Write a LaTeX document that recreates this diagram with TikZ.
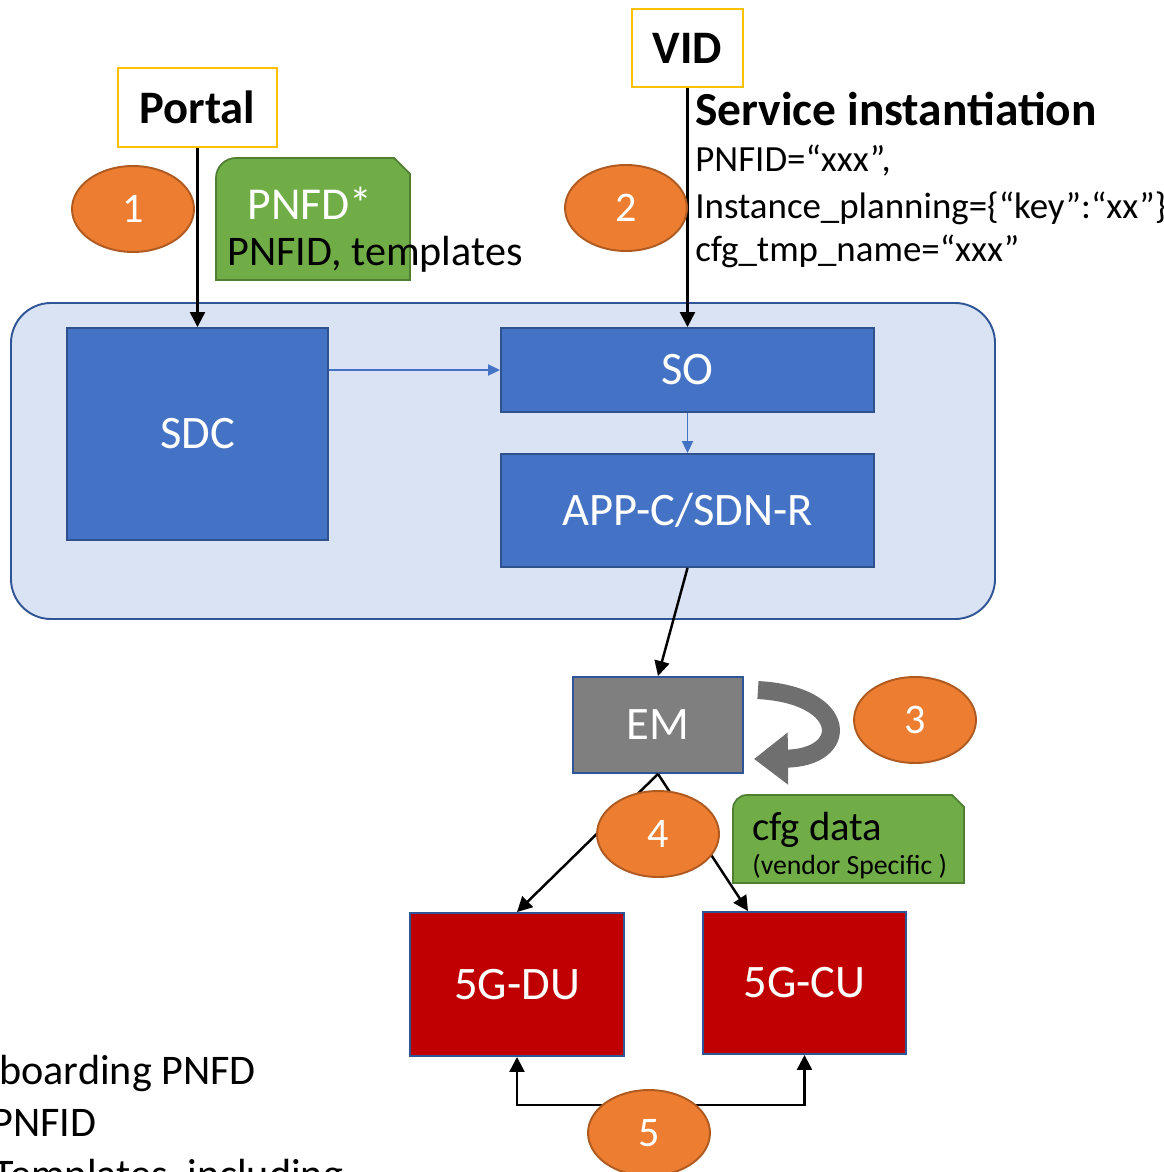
\documentclass[tikz,border=0pt]{standalone}
\usepackage{fontspec}
\setmainfont{Carlito}
\usetikzlibrary{arrows.meta,positioning,shapes.geometric}
\definecolor{onapblue}{HTML}{4472C4}
\definecolor{onapedge}{HTML}{2F528F}
\definecolor{panelfill}{HTML}{DAE3F3}
\definecolor{paneledge}{HTML}{2F5597}
\definecolor{stepfill}{HTML}{ED7D31}
\definecolor{stepedge}{HTML}{AE5A21}
\definecolor{notefill}{HTML}{70AD47}
\definecolor{noteedge}{HTML}{507E32}
\definecolor{emgray}{HTML}{7F7F7F}
\definecolor{loopgray}{HTML}{6F6F6F}
\definecolor{nfred}{HTML}{C00000}
\definecolor{actoredge}{HTML}{FFC000}

\begin{document}
\begin{tikzpicture}[
    x=0.02cm,y=-0.02cm,
    actor/.style={draw=actoredge,line width=1.1pt,fill=white,font=\fontsize{26.5}{30}\selectfont\bfseries},
    blk/.style={draw=onapedge,line width=1.1pt,fill=onapblue,text=white,font=\fontsize{26.5}{30}\selectfont},
    nf/.style={blk,fill=nfred},
    stepnum/.style={ellipse,draw=stepedge,line width=1.1pt,fill=stepfill,text=white,minimum width=2.44cm,minimum height=1.72cm,inner sep=0pt,font=\fontsize{24}{28}\selectfont},
    note/.style={draw=noteedge,line width=1pt,fill=notefill},
    flow/.style={-{Triangle[length=0.3cm,width=0.3cm]},line width=1.4pt},
    link/.style={-{Triangle[length=0.24cm,width=0.22cm]},line width=1.1pt,onapblue},
    txt/.style={inner sep=0pt,anchor=base west}
]
\useasboundingbox (0,0) rectangle (1163,1172);

% ONAP panel
\draw[draw=paneledge,fill=panelfill,line width=1.1pt,rounded corners=0.8cm] (11,303) rectangle (995,619);

% actors
\node[actor,minimum width=3.18cm,minimum height=1.58cm] (portal) at (197.5,107.5) {Portal};
\node[actor,minimum width=2.22cm,minimum height=1.56cm] (vid) at (687.5,48) {VID};

% ONAP components
\node[blk,minimum width=5.22cm,minimum height=4.24cm] (sdc) at (197.5,434) {SDC};
\node[blk,minimum width=7.46cm,minimum height=1.68cm] (so) at (687.5,370) {SO};
\node[blk,minimum width=7.46cm,minimum height=2.26cm] (appc) at (687.5,510.5) {APP-C/SDN-R};
\node[blk,fill=emgray,draw=paneledge,minimum width=3.4cm,minimum height=1.92cm] (em) at (658,725) {EM};
\node[nf,draw=paneledge,minimum width=4.28cm,minimum height=2.86cm] (du) at (517,984.5) {5G-DU};
\node[nf,draw=paneledge,minimum width=4.06cm,minimum height=2.84cm] (cu) at (804.5,983) {5G-CU};

% connectors
\draw[flow] (portal) -- (sdc);
\draw[flow] (vid) -- (so);
\draw[link] (sdc.east |- so.west) -- (so.west);
\draw[link] (so) -- (appc);
\draw[flow] (appc.south) -- (em.north);
\draw[flow] (em.south) -- (du.north);
\draw[flow] (em.south) -- ([xshift=-1.13cm]cu.north);
\draw[{Triangle[length=0.3cm,width=0.3cm]}-{Triangle[length=0.3cm,width=0.3cm]},line width=1.4pt]
    (du.south) -- ++(0,48) -| (cu.south);
\draw[loopgray,line width=0.36cm,-{Triangle[length=0.68cm,width=1.0cm]}]
    ([shift={(14,14)}]em.north east) .. controls (850,695) and (850,758) .. ([shift={(10,-15)}]em.south east);

% notes
\draw[note] (216,280) -- (216,178) arc[start angle=180,end angle=90,radius=0.4cm] -- (394,158) -- (410,174) -- (410,280) -- cycle;
\draw[note] (733,883) -- (733,809) arc[start angle=180,end angle=90,radius=0.28cm] -- (952,795) -- (964,807) -- (964,883) -- cycle;
\node[txt,anchor=base,text=white,font=\fontsize{26}{30}\selectfont] (pnfd) at (310,220) {PNFD*};
\node[txt,anchor=base,font=\fontsize{24}{28}\selectfont] (pnfdinfo) at (375,266) {PNFID, templates};
\node[txt,font=\fontsize{23.2}{28}\selectfont] (cfg) at (752,840) {cfg data};
\node[txt,font=\fontsize{15.8}{19}\selectfont] (vendor) at (752,874) {(vendor Specific )};

% steps
\node[stepnum] (s1) at (133,209) {1};
\node[stepnum] (s2) at (626,208) {2};
\node[stepnum] (s3) at (915,720) {3};
\node[stepnum] (s4) at (658,834) {4};
\node[stepnum] (s5) at (649,1133) {5};

% service instantiation text
\node[txt,font=\fontsize{27}{30}\selectfont\bfseries] (si) at (695,126) {Service instantiation};
\node[txt,font=\fontsize{21}{25}\selectfont] (si1) at (695,172) {PNFID=“xxx”,};
\node[txt,font=\fontsize{21}{25}\selectfont] (si2) at (695,219) {Instance\_planning=\{“key”:“xx”\}};
\node[txt,font=\fontsize{21}{25}\selectfont] (si3) at (695,262) {cfg\_tmp\_name=“xxx”};

% legend (cut off)
\node[txt,font=\fontsize{24}{28}\selectfont] (lg1) at (-1,1084) {boarding PNFD};
\node[txt,font=\fontsize{24}{28}\selectfont] (lg2) at (-9,1136) {PNFID};
\node[txt,font=\fontsize{24}{28}\selectfont] (lg3) at (-7,1188) {Templates, including};
\end{tikzpicture}
\end{document}
